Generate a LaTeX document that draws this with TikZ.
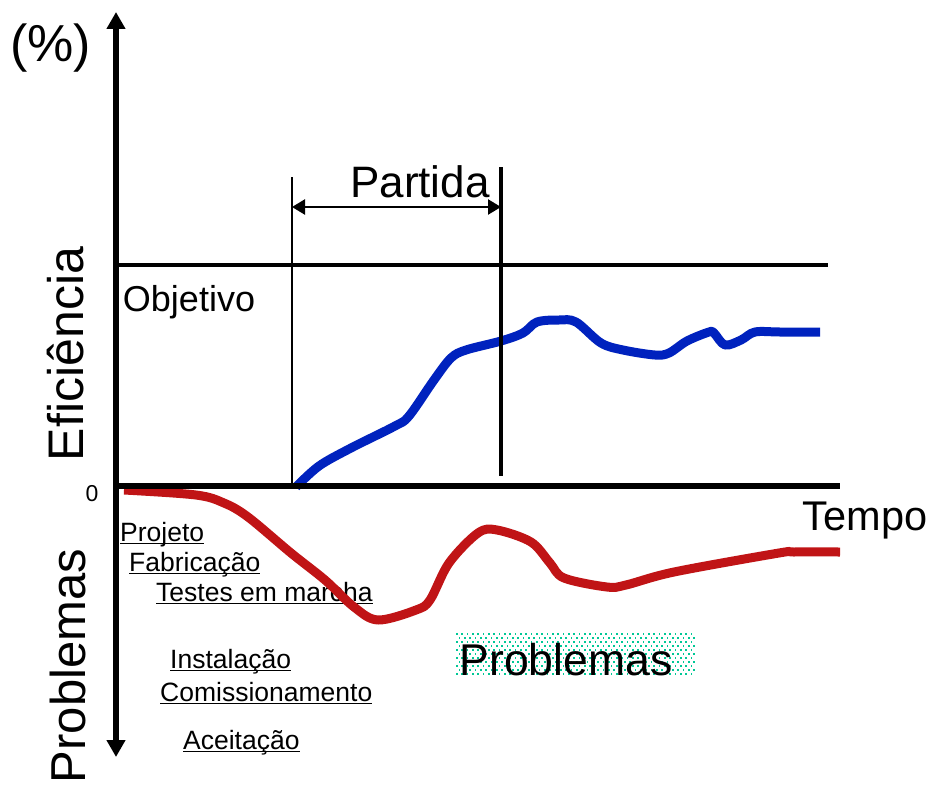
\documentclass[tikz,border=0pt]{standalone}
\usepackage{fontspec}
\setmainfont{Liberation Sans}
\usetikzlibrary{arrows.meta}
\definecolor{effblue}{RGB}{0,34,190}
\definecolor{probred}{RGB}{192,20,22}
\definecolor{dotc}{RGB}{0,200,150}
\tikzset{
  axisline/.style={line width=6.5pt},
  thinline/.style={line width=1.8pt},
  midline/.style={line width=3.5pt},
  curve/.style={line width=9pt, line join=round, smooth, tension=0.55},
  big/.style={inner sep=0pt, font=\fontsize{44}{50}\selectfont},
  side/.style={inner sep=0pt, rotate=90, anchor=base, font=\fontsize{50}{56}\selectfont},
  lbl/.style={inner sep=0pt, anchor=base west, font=\fontsize{26.5}{30}\selectfont},
  ulline/.style={line width=1.4pt}
}
\newcommand{\ulnode}[1]{\draw[ulline] ([yshift=-2.6pt]#1.base west) -- ([yshift=-2.6pt]#1.base east);}
\begin{document}
\begin{tikzpicture}[x=1pt,y=-1pt]
\useasboundingbox (0,0) rectangle (928,784);

% dotted background of the Problemas label
\foreach \r in {0,...,10}{
  \foreach \c in {0,...,44}{
    \fill[dotc] ({456+\c*5.33+mod(\r,2)*2.67},{633+\r*4}) rectangle ++(1.7,1.7);
  }
}

% coordinates
\coordinate (ytop) at (116,12);
\coordinate (ybot) at (116,757);
\coordinate (origin) at (116,486);
\coordinate (xend) at (840,486);
\coordinate (objL) at (116,265);
\coordinate (objR) at (828,265);
\coordinate (pLtop) at (292,177);
\coordinate (pLbot) at (292,486);
\coordinate (pRtop) at (501,167);
\coordinate (pRbot) at (501,476);
\coordinate (aL) at (292,207);
\coordinate (aR) at (501,207);

% reference lines
\draw[midline] (objL) -- (objR);
\draw[thinline] (pLtop) -- (pLbot);

% curves
\draw[curve, effblue] plot coordinates {(296,487) (319,466) (351,448) (395,426) (409,416) (434,380) (451,358) (466,350) (501,341) (523,333) (537,322) (559,320) (576,322) (601,343) (623,350) (655,355) (669,353) (687,341) (709,332) (714,333) (725,345) (741,340) (755,332) (780,332) (820,332)};

% texts
\node[inner sep=0pt, anchor=base west, font=\fontsize{52}{58}\selectfont] (pct) at (10,62) {(\%)};
\node[big, anchor=base] (partida) at (420,197) {Partida};
\node[inner sep=0pt, anchor=base, font=\fontsize{36}{40}\selectfont] (objetivo) at (189,311) {Objetivo};
\node[inner sep=0pt, anchor=base, font=\fontsize{23}{26}\selectfont] (zero) at (92,501) {0};
\node[inner sep=0pt, anchor=base, font=\fontsize{41.5}{46}\selectfont] (tempo) at (865,530) {Tempo};
\node[big, anchor=base, font=\fontsize{44.5}{50}\selectfont] (probbox) at (566,675) {Problemas};
\node[side] (efic) at (83,354) {Eficiência};
\node[side, font=\fontsize{49}{54}\selectfont] (probside) at (85,666) {Problemas};

\node[lbl] (projeto) at (120,541) {Projeto};
\node[lbl] (fabric) at (129,571) {Fabricação};
\node[lbl] (testes) at (156,601) {Testes em marcha};
\node[lbl] (instal) at (170,668) {Instalação};
\node[lbl] (comiss) at (160,701) {Comissionamento};
\node[lbl] (aceit) at (183,749) {Aceitação};
\ulnode{projeto}
\ulnode{fabric}
\ulnode{testes}
\ulnode{instal}
\ulnode{comiss}
\ulnode{aceit}

\draw[curve, probred] plot coordinates {(124,490) (196,495) (224,503) (248,517) (291,553) (325,580) (354,607) (378,620) (416,610) (430,600) (449,563) (478,533) (497,530) (531,542) (550,563) (564,578) (607,587) (626,585) (674,572) (779,553) (794,552) (840,552)};

% axes
\draw[axisline] (origin) -- (xend);
\draw[axisline, {Triangle[length=17pt,width=18pt]}-{Triangle[length=17pt,width=18pt]}] (ytop) -- (ybot);

% partida markers
\draw[midline] (pRtop) -- (pRbot);
\draw[line width=2.5pt, {Triangle[length=13pt,width=15pt]}-{Triangle[length=13pt,width=15pt]}] (aL) -- (aR);
\end{tikzpicture}
\end{document}
